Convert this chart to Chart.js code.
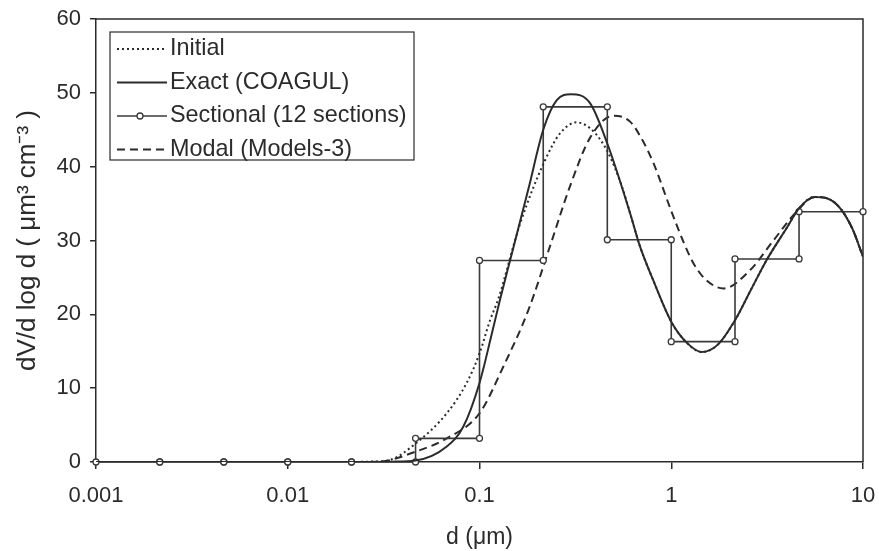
<!DOCTYPE html>
<html>
<head>
<meta charset="utf-8">
<script src="https://cdn.jsdelivr.net/npm/chart.js@4"></script>
<style>
  html, body { margin: 0; padding: 0; background: #fff; }
  #wrap { width: 879px; height: 551px; }
</style>
</head>
<body>
<div id="wrap"><canvas id="chart" width="879" height="551"></canvas></div>
<script>
// values (d in µm, dV/dlogd in µm3 cm-3)
const sectionEdges = [0.001, 0.00215, 0.00464, 0.01, 0.0215, 0.0464, 0.1, 0.215, 0.464, 1, 2.15, 4.64, 10];
const sectionValues = [0, 0, 0, 0, 0, 3.2, 27.3, 48.1, 30.1, 16.3, 27.5, 33.9];

const exactD = [0.001, 0.01, 0.025, 0.035, 0.0464, 0.0675, 0.0824, 0.1, 0.116, 0.128, 0.144, 0.18, 0.215, 0.253, 0.3, 0.377, 0.466, 0.61, 0.687, 0.8, 1.0, 1.2, 1.44, 1.75, 2.15, 2.6, 3.15, 4.0, 4.65, 5.6, 6.5, 7.59, 8.8, 10];
const exactV = [0, 0, 0, 0.05, 0.2, 2.1, 4.8, 10.7, 17.4, 22, 27.2, 37, 45, 49, 49.8, 48.6, 43, 33.7, 29.2, 24.8, 19, 16.2, 14.9, 15.9, 19.2, 23.3, 27.4, 31.7, 34.4, 35.9, 35.7, 34.4, 31.6, 27.8];

const initialD = [0.001, 0.01, 0.02, 0.027, 0.034, 0.0464, 0.0675, 0.0857, 0.1, 0.1135, 0.125, 0.163, 0.22, 0.263, 0.321, 0.392, 0.466, 0.55, 0.61, 0.687, 0.8, 1.0, 1.2, 1.44, 1.75, 2.15, 2.6, 3.15, 4.0, 4.65, 5.6, 6.5, 7.59, 8.8, 10];
const initialV = [0, 0, 0, 0.05, 0.27, 2.5, 6.6, 10.7, 14.7, 19.2, 22, 32.3, 40.9, 44.5, 46, 44.8, 42, 37.5, 33.7, 29.2, 24.8, 19, 16.2, 14.9, 15.9, 19.2, 23.3, 27.4, 31.7, 34.4, 35.9, 35.7, 34.4, 31.6, 27.8];

const modalD = [0.001, 0.01, 0.02, 0.03, 0.0464, 0.0675, 0.1, 0.133, 0.18, 0.233, 0.296, 0.377, 0.499, 0.61, 0.7, 0.807, 1.0, 1.15, 1.3, 1.5, 1.87, 2.58, 3.41, 4.5, 5.6, 6.5, 7.59, 8.8, 10];
const modalV = [0, 0, 0, 0.05, 1.4, 3.2, 6.6, 12.9, 20.6, 29.2, 37.3, 43.9, 46.9, 46.1, 43.8, 40.5, 34, 30, 27, 24.8, 23.5, 26, 30, 33.9, 35.9, 35.7, 34.4, 31.6, 27.8];

const xTicks = [0.001, 0.01, 0.1, 1, 10];
const seriesLabels = ["Initial", "Exact (COAGUL)", "Sectional (12 sections)", "Modal (Models-3)"];

const ink = "#2b2b2b";
const fontFamily = '"Liberation Sans", Arial, sans-serif';

function pairs(xs, ys) {
  return xs.map((x, i) => ({ x: x, y: ys[i] }));
}

// step line: each section drawn from its lower to its upper edge
const sectionalPoints = [];
sectionValues.forEach((v, i) => {
  sectionalPoints.push({ x: sectionEdges[i], y: v });
  sectionalPoints.push({ x: sectionEdges[i + 1], y: v });
});

const frame = {
  id: "frame",
  beforeDatasetsDraw(chart) {
    const { ctx, chartArea } = chart;
    ctx.save();
    ctx.strokeStyle = ink;
    ctx.lineWidth = 1.5;
    ctx.beginPath();
    ctx.moveTo(chartArea.left, chartArea.top);
    ctx.lineTo(chartArea.right, chartArea.top);
    ctx.lineTo(chartArea.right, chartArea.bottom);
    ctx.stroke();
    ctx.restore();
  }
};

const legendBox = {
  id: "legendBox",
  afterDatasetsDraw(chart) {
    const { ctx, chartArea } = chart;
    const x0 = chartArea.left + 14;
    const y0 = chartArea.top + 13;
    const w = 304, h = 128;
    ctx.save();
    ctx.fillStyle = "#fff";
    ctx.fillRect(x0, y0, w, h);
    ctx.strokeStyle = ink;
    ctx.lineWidth = 1.2;
    ctx.strokeRect(x0, y0, w, h);
    chart.data.datasets.forEach((ds, i) => {
      const cy = y0 + 17 + i * 33.5;
      ctx.strokeStyle = ds.borderColor;
      ctx.lineWidth = ds.borderWidth;
      ctx.setLineDash(ds.borderDash || []);
      ctx.beginPath();
      ctx.moveTo(x0 + 7, cy);
      ctx.lineTo(x0 + 57, cy);
      ctx.stroke();
      ctx.setLineDash([]);
      if (ds.pointRadius > 0) {
        ctx.beginPath();
        ctx.arc(x0 + 30, cy, ds.pointRadius, 0, Math.PI * 2);
        ctx.fillStyle = "#fff";
        ctx.fill();
        ctx.lineWidth = ds.pointBorderWidth;
        ctx.stroke();
      }
      ctx.fillStyle = ink;
      ctx.font = "23.4px " + fontFamily;
      ctx.textBaseline = "middle";
      ctx.textAlign = "left";
      ctx.fillText(ds.label, x0 + 60, cy);
    });
    ctx.restore();
  }
};

new Chart(document.getElementById("chart"), {
  type: "line",
  data: {
    datasets: [
      {
        label: seriesLabels[0],
        data: pairs(initialD, initialV),
        borderColor: ink,
        borderWidth: 2,
        borderDash: [2, 3],
        pointRadius: 0,
        cubicInterpolationMode: "monotone"
      },
      {
        label: seriesLabels[1],
        data: pairs(exactD, exactV),
        borderColor: ink,
        borderWidth: 2,
        pointRadius: 0,
        cubicInterpolationMode: "monotone"
      },
      {
        label: seriesLabels[2],
        data: sectionalPoints,
        borderColor: "#3a3a3a",
        borderWidth: 1.6,
        pointRadius: 3,
        pointBorderWidth: 1.3,
        pointBackgroundColor: "#fff",
        pointBorderColor: "#3a3a3a",
        tension: 0,
        clip: false
      },
      {
        label: seriesLabels[3],
        data: pairs(modalD, modalV),
        borderColor: ink,
        borderWidth: 2,
        borderDash: [8, 5],
        pointRadius: 0,
        cubicInterpolationMode: "monotone"
      }
    ]
  },
  options: {
    responsive: false,
    animation: false,
    layout: { padding: { top: 19, right: 16, left: 0, bottom: 0 } },
    plugins: {
      legend: { display: false },
      tooltip: { enabled: false }
    },
    scales: {
      x: {
        type: "logarithmic",
        min: 0.001,
        max: 10,
        afterBuildTicks: (scale) => {
          scale.ticks = xTicks.map((v) => ({ value: v }));
        },
        afterFit: (scale) => {
          scale.height = 89;
          scale.paddingLeft = 0;
          scale.paddingRight = 0;
        },
        ticks: {
          color: ink,
          font: { family: fontFamily, size: 22 },
          padding: 14,
          maxRotation: 0,
          autoSkip: false,
          callback: (v) => String(v)
        },
        grid: { display: true, drawOnChartArea: false, drawTicks: true, tickLength: 7, color: ink, lineWidth: 1.5 },
        border: { display: true, color: ink, width: 1.5 },
        title: {
          display: true,
          text: "d (μm)",
          color: ink,
          font: { family: fontFamily, size: 23 },
          padding: { top: 0, bottom: 0 }
        }
      },
      y: {
        min: 0,
        max: 60,
        afterFit: (scale) => {
          scale.width = 96;
          scale.paddingTop = 0;
          scale.paddingBottom = 0;
        },
        ticks: {
          stepSize: 10,
          color: ink,
          font: { family: fontFamily, size: 22 },
          padding: 9
        },
        grid: { display: true, drawOnChartArea: false, drawTicks: true, tickLength: 6, color: ink, lineWidth: 1.5 },
        border: { display: true, color: ink, width: 1.5 },
        title: {
          display: true,
          text: "dV/d log d ( μm³ cm⁻³ )",
          color: ink,
          font: { family: fontFamily, size: 26 },
          padding: { top: 12, bottom: 0 }
        }
      }
    }
  },
  plugins: [frame, legendBox]
});
</script>
</body>
</html>
